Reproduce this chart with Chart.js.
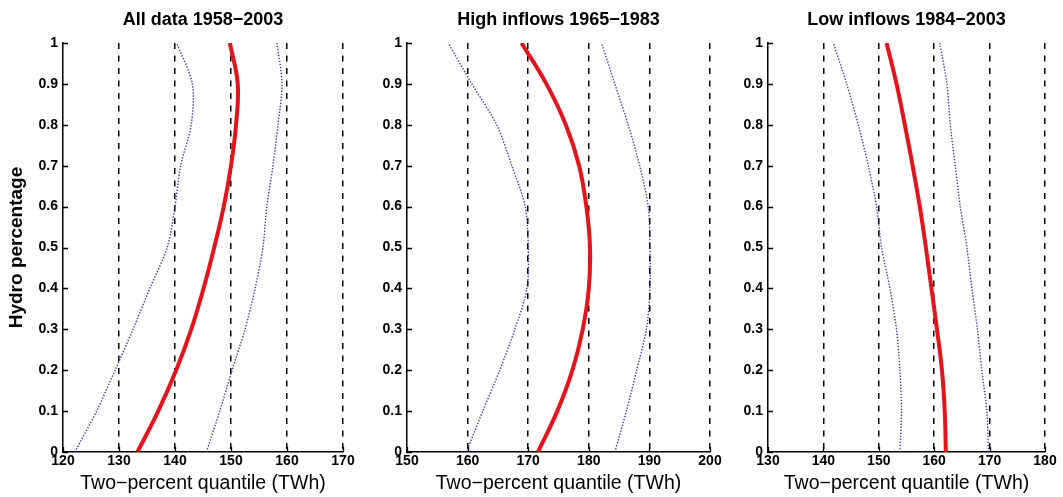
<!DOCTYPE html>
<html>
<head>
<meta charset="utf-8">
<script src="https://cdn.jsdelivr.net/npm/chart.js@4.4.1/dist/chart.umd.min.js"></script>
<style>
  html, body { margin: 0; padding: 0; background: #fff; overflow: hidden; }
  body { width: 1063px; height: 497px; position: relative; }
  canvas.panel { position: absolute; top: 0; }
</style>
</head>
<body>
<canvas id="panelAll" class="panel"></canvas>
<canvas id="panelHigh" class="panel"></canvas>
<canvas id="panelLow" class="panel"></canvas>
<script>
// Hydro share of production (vertical axis), shared by every curve
const hydroShare = [0, 0.1, 0.2, 0.3, 0.4, 0.5, 0.6, 0.7, 0.8, 0.9, 1];

// All data 1958-2003: two-percent quantile (TWh) with lower / upper bands
const allQuantile = [133.3, 137.0, 140.2, 142.9, 145.1, 147.0, 148.7, 150.0, 150.9, 151.2, 149.8];
const allLower    = [122.1, 126.0, 129.3, 132.5, 135.5, 138.6, 140.0, 141.0, 142.9, 143.1, 140.3];
const allUpper    = [145.6, 148.0, 150.2, 152.5, 154.3, 155.7, 156.4, 157.5, 158.4, 159.1, 158.2];

// High inflows 1965-1983
const highQuantile = [171.6, 174.8, 177.3, 179.0, 180.0, 180.2, 179.6, 178.4, 176.2, 173.0, 168.9];
const highLower    = [159.8, 162.5, 165.3, 167.8, 169.8, 170.0, 169.5, 167.3, 164.8, 160.7, 156.8];
const highUpper    = [184.3, 186.2, 187.9, 189.5, 190.1, 190.1, 189.8, 188.4, 186.5, 184.3, 182.1];

// Low inflows 1984-2003
const lowQuantile = [162.1, 161.9, 161.4, 160.5, 159.5, 158.5, 157.4, 156.1, 154.7, 153.2, 151.4];
const lowLower    = [153.8, 154.1, 153.8, 153.2, 152.0, 150.5, 149.6, 148.1, 146.3, 144.2, 141.8];
const lowUpper    = [169.8, 169.5, 168.6, 167.8, 166.8, 165.9, 164.7, 163.8, 162.9, 162.3, 161.0];

// Tick values
const yTicks     = [0, 0.1, 0.2, 0.3, 0.4, 0.5, 0.6, 0.7, 0.8, 0.9, 1];
const xTicksAll  = [120, 130, 140, 150, 160, 170];
const xTicksHigh = [150, 160, 170, 180, 190, 200];
const xTicksLow  = [130, 140, 150, 160, 170, 180];

// Texts
const panelTitles = ['All data 1958\u22122003', 'High inflows 1965\u22121983', 'Low inflows 1984\u22122003'];
const xAxisTitle = 'Two\u2212percent quantile (TWh)';
const yAxisTitle = 'Hydro percentage';

const FONT = "'Liberation Sans', Arial, Helvetica, sans-serif";

// Short inward tick marks on the left and bottom axes
const inwardTicks = {
  id: 'inwardTicks',
  afterDraw(chart) {
    const { ctx, chartArea, scales } = chart;
    ctx.save();
    ctx.strokeStyle = '#000';
    ctx.lineWidth = 1.3;
    ctx.beginPath();
    scales.y.ticks.forEach(t => {
      const py = Math.round(scales.y.getPixelForValue(t.value)) + 0.5;
      ctx.moveTo(chartArea.left, py);
      ctx.lineTo(chartArea.left + 5, py);
    });
    scales.x.ticks.forEach(t => {
      const px = Math.round(scales.x.getPixelForValue(t.value)) + 0.5;
      ctx.moveTo(px, chartArea.bottom);
      ctx.lineTo(px, chartArea.bottom - 5);
    });
    ctx.stroke();
    ctx.restore();
  }
};

function points(xs) {
  return hydroShare.map((h, i) => ({ x: xs[i], y: h }));
}

function bandLine(values) {
  return {
    data: points(values),
    showLine: true,
    borderColor: 'rgba(40,40,150,0.9)',
    borderWidth: 1.4,
    borderDash: [1.4, 1.6],
    pointRadius: 0,
    tension: 0.3
  };
}

function makePanel(cfg) {
  const canvas = document.getElementById(cfg.id);
  canvas.width = cfg.width;
  canvas.height = 497;
  canvas.style.left = cfg.left + 'px';
  canvas.style.width = cfg.width + 'px';
  canvas.style.height = '497px';

  const yScale = {
    type: 'linear',
    min: 0, max: 1,
    afterBuildTicks: s => { s.ticks = yTicks.map(v => ({ value: v })); },
    afterFit: s => { s.width = cfg.yAxisWidth; },
    ticks: {
      color: '#000',
      font: { family: FONT, size: 14, weight: 'bold' },
      padding: 5,
      autoSkip: false,
      callback: v => String(v)
    },
    grid: { display: false, drawTicks: false },
    border: { display: true, color: '#000', width: 1.5 },
    title: cfg.showYTitle ? {
      display: true,
      text: yAxisTitle,
      color: '#000',
      font: { family: FONT, size: 19, weight: 'bold', lineHeight: 1.2 },
      padding: { top: 5.6, bottom: 0 }
    } : { display: false }
  };

  const xScale = {
    type: 'linear',
    min: cfg.xTicks[0],
    max: cfg.xTicks[cfg.xTicks.length - 1],
    afterBuildTicks: s => { s.ticks = cfg.xTicks.map(v => ({ value: v })); },
    afterFit: s => { s.height = 45; },
    ticks: {
      color: '#000',
      font: { family: FONT, size: 14, weight: 'bold' },
      padding: 1,
      autoSkip: false,
      maxRotation: 0,
      callback: v => String(v)
    },
    grid: {
      drawTicks: false,
      color: c => (c.index === 0 ? 'rgba(0,0,0,0)' : '#000'),
      lineWidth: 1.5
    },
    border: { display: true, color: '#000', width: 1.5, dash: [6, 6.5] },
    title: {
      display: true,
      text: xAxisTitle,
      color: '#000',
      font: { family: FONT, size: 19.5, lineHeight: 1.2 },
      padding: { top: 0, bottom: 2 }
    }
  };

  return new Chart(canvas, {
    type: 'scatter',
    data: {
      datasets: [
        Object.assign({ label: 'lower' }, bandLine(cfg.lower)),
        Object.assign({ label: 'upper' }, bandLine(cfg.upper)),
        {
          label: 'quantile',
          data: points(cfg.quantile),
          showLine: true,
          borderColor: '#e3141c',
          borderWidth: 4,
          pointRadius: 0,
          tension: 0.4
        }
      ]
    },
    options: {
      responsive: false,
      animation: false,
      devicePixelRatio: 1,
      layout: {
        autoPadding: false,
        padding: { left: 0, top: 0, bottom: 0, right: cfg.padRight }
      },
      plugins: {
        legend: { display: false },
        tooltip: { enabled: false },
        title: {
          display: true,
          text: cfg.title,
          fullSize: false,
          color: '#000',
          font: { family: FONT, size: 18, weight: 'bold', lineHeight: 1.2 },
          padding: { top: 9, bottom: 12.4 }
        }
      },
      scales: { x: xScale, y: yScale }
    },
    plugins: [inwardTicks]
  });
}

makePanel({ id: 'panelAll', left: 0, width: 360, yAxisWidth: 63, padRight: 17, showYTitle: true,
  title: panelTitles[0], xTicks: xTicksAll, quantile: allQuantile, lower: allLower, upper: allUpper });
makePanel({ id: 'panelHigh', left: 355, width: 375, yAxisWidth: 52, padRight: 20, showYTitle: false,
  title: panelTitles[1], xTicks: xTicksHigh, quantile: highQuantile, lower: highLower, upper: highUpper });
makePanel({ id: 'panelLow', left: 720, width: 343, yAxisWidth: 48, padRight: 18, showYTitle: false,
  title: panelTitles[2], xTicks: xTicksLow, quantile: lowQuantile, lower: lowLower, upper: lowUpper });
</script>
</body>
</html>
